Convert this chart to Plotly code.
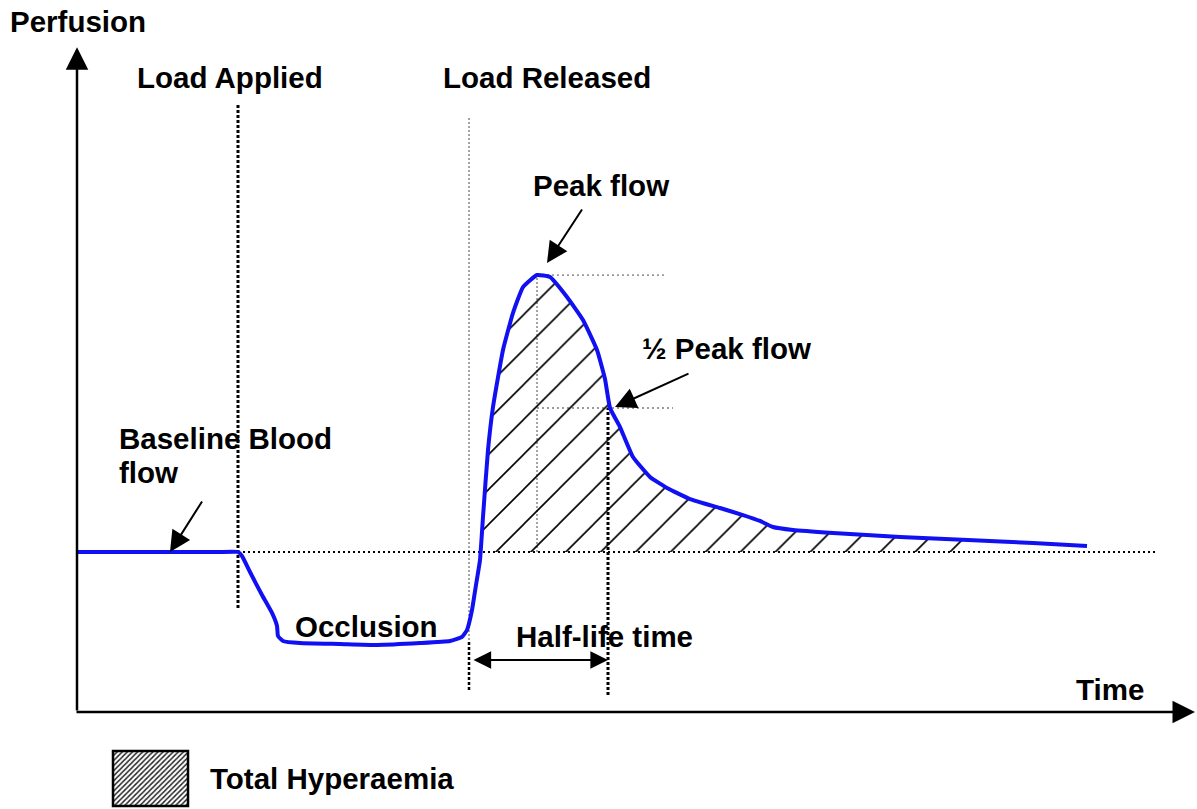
import numpy as np
import plotly.graph_objects as go

# ---------------- data (schematic units: time in s, perfusion in % of baseline) -------------
time = [0, 8, 14, 16, 16.4, 17.2, 18.4, 19.4, 19.9, 20.0, 20.5, 22.2,
        26.2, 29.9, 34.2, 37.2, 38.4, 38.9, 39.4, 39.8, 40.2, 40.5,
        41.0, 41.5, 42.5, 43.5, 44.5, 45.9, 47.2, 48.9, 50.5, 51.9,
        52.7, 53.2, 54.2, 55.5, 57.2, 58.9, 61.2, 64.2, 66.5, 68.2,
        69.5, 71.5, 75.5, 82.2, 89.0, 95.5, 100.9]
perfusion = [100, 100, 100, 100, 97.5, 87.5, 73.1, 61.9, 53.75, 47.5, 44.4, 43.1,
             42.5, 41.9, 43.1, 44.4, 46.9, 51.25, 63.75, 79.4, 95, 121.9,
             163.75, 190.6, 226.25, 249.4, 265.6, 273.1, 271.9, 259.4, 245, 226.25,
             208.1, 190, 178.1, 159.4, 146.9, 140, 133.1, 127.5, 123.1, 119.4,
             115.6, 113.75, 111.9, 109.4, 107.5, 105.6, 103.75]

baseline = 100
load_applied_t = 16.0
load_released_t = 39.1
peak_t, peak_p = 45.9, 273.1
half_t, half_p = 53.2, 190.0
half_life_start, half_life_end = 39.4, 53.0
hyperaemia_start, hyperaemia_end = 40.3, 88.7

# ---------------- layout helpers (pixel -> paper) ----------------
W, H = 1197, 809
def px(x):
    return x / W
def py(y):
    return 1 - y / H

FONT = dict(family="Liberation Sans, Arial, sans-serif", size=29.5, color="black", weight="bold")
BLUE = "#1010f2"

fig = go.Figure()

# hatched total hyperaemia area (between curve and baseline)
t_arr = np.array(time)
p_arr = np.array(perfusion)
mask = (t_arr > hyperaemia_start) & (t_arr < hyperaemia_end)
ht = [hyperaemia_start] + list(t_arr[mask]) + [hyperaemia_end]
hp = [baseline] + list(p_arr[mask]) + [float(np.interp(hyperaemia_end, t_arr, p_arr))]
ht += [hyperaemia_end, hyperaemia_start]
hp += [baseline, baseline]
fig.add_trace(go.Scatter(
    x=ht, y=hp, mode="lines", fill="toself", line=dict(width=0, color="rgba(0,0,0,0)"),
    fillcolor="rgba(0,0,0,0)",
    fillpattern=dict(shape="/", size=24.7, solidity=0.065, fgcolor="black", fgopacity=1,
                     bgcolor="rgba(0,0,0,0)", fillmode="replace"),
    hoverinfo="skip", showlegend=False))

# perfusion curve
fig.add_trace(go.Scatter(x=time, y=perfusion, mode="lines",
                         line=dict(color=BLUE, width=4, shape="spline", smoothing=0.4),
                         showlegend=False, hoverinfo="skip"))

# legend swatch (on its own small axes)
fig.add_trace(go.Scatter(
    x=[0, 1, 1, 0, 0], y=[0, 0, 1, 1, 0], mode="lines", fill="toself",
    line=dict(width=0, color="rgba(0,0,0,0)"), fillcolor="white",
    fillpattern=dict(shape="/", size=3.6, solidity=0.4, fgcolor="#222", bgcolor="white",
                     fgopacity=1, fillmode="replace"),
    xaxis="x2", yaxis="y2", showlegend=False, hoverinfo="skip"))

shapes = []
def vline(x, y0, y1, color="black", width=2, dash="2px,2px"):
    shapes.append(dict(type="line", xref="x", yref="y", x0=x, x1=x, y0=y0, y1=y1,
                       line=dict(color=color, width=width, dash=dash), layer="below"))
def hline(y, x0, x1, color="black", width=1.5, dash="2px,3px"):
    shapes.append(dict(type="line", xref="x", yref="y", x0=x0, x1=x1, y0=y, y1=y,
                       line=dict(color=color, width=width, dash=dash), layer="below"))

GRAY = "#9a9a9a"
vline(load_applied_t, 65, 379.4, width=3, dash="3px,2px")
vline(load_released_t, 45, 371.9, color=GRAY, width=1.8)
vline(load_released_t, 13.75, 45, width=2.5, dash="3px,2px")
hline(baseline, load_applied_t, 107.9, width=2)
vline(peak_t, baseline, peak_p, color=GRAY, width=1.8)
hline(peak_p, peak_t, 58.9, color=GRAY, width=1.8)
hline(half_p, peak_t, 59.5, color=GRAY, width=1.8)
vline(half_life_end, 10.6, half_p, width=3, dash="3px,2px")

# legend swatch border
shapes.append(dict(type="rect", xref="paper", yref="paper", x0=px(113), x1=px(188),
                   y0=py(806), y1=py(751), line=dict(color="black", width=2.5)))

annotations = []
def arrow(x, y, ax, ay, width=2, size=1.5, side="end"):
    annotations.append(dict(x=x, y=y, ax=ax, ay=ay, xref="x", yref="y", axref="x", ayref="y",
                            text="", showarrow=True, arrowhead=2, arrowwidth=width,
                            arrowsize=size, arrowcolor="black", arrowside=side,
                            startarrowhead=2, startarrowsize=size))

# axes with arrow heads
arrow(-0.1, 415.5, -0.1, 0, width=2.5, size=1.8)
arrow(111.7, 0, -0.3, 0, width=2.5, size=1.8)
# callouts
arrow(9.2, baseline, 12.5, 132.5, width=2, size=2.1)
arrow(46.9, 280.6, 50.5, 315, width=2, size=2.1)
arrow(53.7, 190.6, 61.2, 211.9, width=2, size=2.1)
arrow(half_life_end, 32.5, half_life_start, 32.5, width=2.2, size=1.6, side="end+start")

def label(text, x, y):
    annotations.append(dict(text=text, x=px(x), y=py(y), xref="paper", yref="paper",
                            xanchor="left", yanchor="middle", showarrow=False,
                            font=FONT, borderpad=0))

label("Perfusion", 9, 22)
label("Load Applied", 136, 77)
label("Load Released", 442, 77)
label("Peak flow", 532, 185)
label("½ Peak flow", 641, 348)
label("Baseline Blood", 118, 438)
label("flow", 118, 472)
label("Occlusion", 294, 626)
label("Half-life time", 515, 636)
label("Time", 1075, 689)
label("Total Hyperaemia", 209, 778)

fig.update_layout(
    width=W, height=H, margin=dict(l=0, r=0, t=0, b=0),
    paper_bgcolor="white", plot_bgcolor="white",
    xaxis=dict(range=[-7.8, 111.9], visible=False, fixedrange=True),
    yaxis=dict(range=[-60.625, 445], visible=False, fixedrange=True),
    xaxis2=dict(domain=[px(113), px(188)], range=[0, 1], visible=False, anchor="y2"),
    yaxis2=dict(domain=[py(806), py(751)], range=[0, 1], visible=False, anchor="x2"),
    shapes=shapes, annotations=annotations, showlegend=False,
)

fig.write_html("out.html", config=dict(displayModeBar=False, staticPlot=True),
               post_script="document.body.style.margin='0';document.body.style.overflow='hidden';")
